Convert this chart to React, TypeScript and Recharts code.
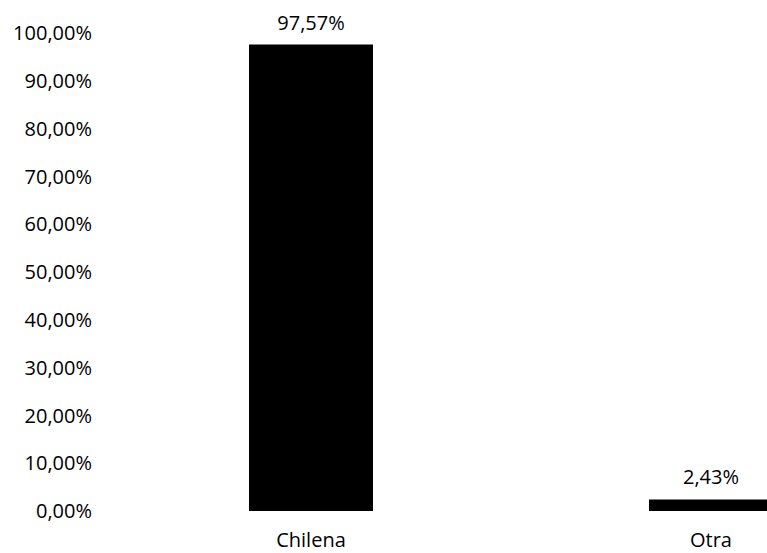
import { Bar, BarChart, LabelList, XAxis, YAxis } from 'recharts';

// nacionalidad
const categories = ['Chilena', 'Otra'];
const percentages = [97.57, 2.43];
const yTicks = [0, 10, 20, 30, 40, 50, 60, 70, 80, 90, 100];

const data = categories.map((name, i) => ({ name, value: percentages[i] }));

const fmt = (v: number) => v.toFixed(2).replace('.', ',') + '%';

const font = { fontFamily: 'Open Sans', fontSize: 20, fill: '#000' };

const App = () => {
  return (
    <div style={{ position: 'absolute', top: 0, left: 0, width: 767, height: 553, overflow: 'hidden' }}>
      <BarChart width={940} height={553} data={data} margin={{ top: 33, right: 29, left: 0, bottom: 0 }} barSize={124}>
        <XAxis dataKey="name" height={42} axisLine={false} tickLine={false} tickSize={0} tickMargin={22} tick={font} />
        <YAxis
          width={111}
          domain={[0, 100]}
          ticks={yTicks}
          interval={0}
          axisLine={false}
          tickLine={false}
          tickSize={0}
          tickMargin={19}
          tickFormatter={fmt}
          tick={font}
        />
        <Bar dataKey="value" fill="#000" isAnimationActive={false}>
          <LabelList dataKey="value" position="top" offset={15} formatter={(v: any) => fmt(Number(v))} style={font} />
        </Bar>
      </BarChart>
    </div>
  );
};

export default App;
